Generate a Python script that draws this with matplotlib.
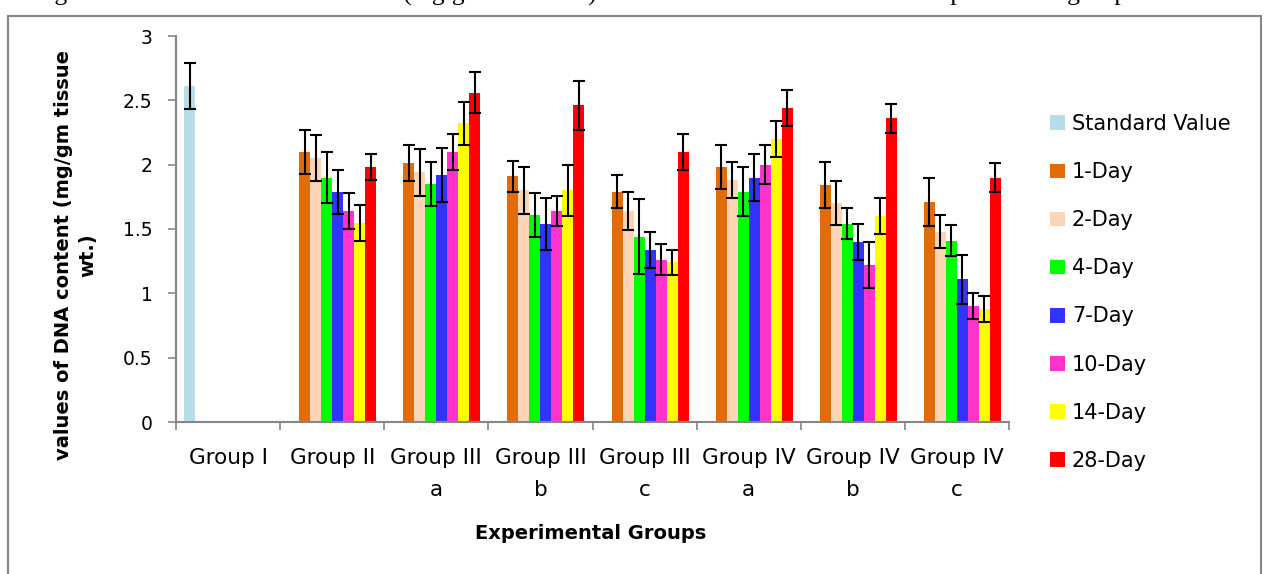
import matplotlib
matplotlib.use("Agg")
import matplotlib.pyplot as plt
import numpy as np
from matplotlib.patches import Patch, Rectangle

groups = ["Group I", "Group II", "Group III\na", "Group III\nb", "Group III\nc",
          "Group IV\na", "Group IV\nb", "Group IV\nc"]
series = ["Standard Value", "1-Day", "2-Day", "4-Day", "7-Day", "10-Day", "14-Day", "28-Day"]
colors = ["#B7DDE8", "#E36C09", "#FBD5B5", "#00FF00", "#3333FF", "#FF33CC", "#FFFF00", "#FF0000"]

nan = np.nan
# rows = series, columns = groups
standard = [2.61, nan, nan, nan, nan, nan, nan, nan]
day1 = [nan, 2.10, 2.01, 1.91, 1.79, 1.98, 1.84, 1.71]
day2 = [nan, 2.05, 1.94, 1.80, 1.64, 1.88, 1.70, 1.48]
day4 = [nan, 1.90, 1.85, 1.61, 1.44, 1.79, 1.54, 1.41]
day7 = [nan, 1.79, 1.92, 1.54, 1.34, 1.90, 1.40, 1.11]
day10 = [nan, 1.64, 2.10, 1.64, 1.26, 2.00, 1.22, 0.90]
day14 = [nan, 1.55, 2.32, 1.80, 1.24, 2.20, 1.60, 0.88]
day28 = [nan, 1.98, 2.56, 2.46, 2.10, 2.44, 2.36, 1.90]

standard_err = [0.18, nan, nan, nan, nan, nan, nan, nan]
day1_err = [nan, 0.17, 0.14, 0.12, 0.13, 0.17, 0.18, 0.19]
day2_err = [nan, 0.18, 0.18, 0.18, 0.15, 0.14, 0.17, 0.13]
day4_err = [nan, 0.20, 0.17, 0.17, 0.29, 0.19, 0.12, 0.12]
day7_err = [nan, 0.17, 0.21, 0.20, 0.14, 0.18, 0.14, 0.19]
day10_err = [nan, 0.14, 0.14, 0.12, 0.12, 0.15, 0.18, 0.10]
day14_err = [nan, 0.14, 0.17, 0.20, 0.10, 0.14, 0.14, 0.10]
day28_err = [nan, 0.10, 0.16, 0.19, 0.14, 0.14, 0.11, 0.11]

values = [standard, day1, day2, day4, day7, day10, day14, day28]
errors = [standard_err, day1_err, day2_err, day4_err, day7_err, day10_err, day14_err, day28_err]

fig = plt.figure(figsize=(12.65, 5.74), dpi=100)
ax = fig.add_axes([176 / 1265, 152 / 574, 833 / 1265, 386 / 574])

x = np.arange(len(groups))
n = len(series)
w = 0.846 / n
for j in range(n):
    pos = x + (j - (n - 1) / 2) * w
    ax.bar(pos, values[j], width=w, color=colors[j], label=series[j], zorder=2)
    ax.errorbar(pos, values[j], yerr=errors[j], fmt="none", ecolor="black",
                elinewidth=1.5, capsize=4, capthick=1.5, zorder=3)

gray = "#868686"
ax.set_xlim(-0.5, len(groups) - 0.5)
ax.set_ylim(0, 3)
ax.set_yticks(np.arange(0, 3.01, 0.5))
ax.set_yticklabels([f"{v:g}" for v in np.arange(0, 3.01, 0.5)])
ax.set_xticks(np.arange(len(groups) + 1) - 0.5)
ax.set_xticklabels([])
ax.set_xticks(x, minor=True)
ax.set_xticklabels(groups, minor=True)
for t in ax.get_xticklabels(minor=True):
    t.set_linespacing(1.75)
ax.tick_params(axis="x", which="major", length=6, color=gray, width=1.2)
ax.tick_params(axis="x", which="minor", length=0, pad=18.5, labelsize=15.5)
ax.tick_params(axis="y", length=6, color=gray, width=1.2, pad=11, labelsize=13.5)
for s in ["top", "right"]:
    ax.spines[s].set_visible(False)
for s in ["left", "bottom"]:
    ax.spines[s].set_color(gray)
    ax.spines[s].set_linewidth(1.5)

fig.text(76 / 1265, 1 - 255 / 574, "values of DNA content (mg/gm tissue\nwt.)",
         rotation=90, ha="center", va="center", multialignment="center",
         fontsize=14, fontweight="bold", linespacing=1.35)
fig.text(591 / 1265, 1 - 539 / 574, "Experimental Groups", ha="center", va="baseline",
         fontsize=14, fontweight="bold")

handles = [Patch(facecolor=c) for c in colors]
fig.legend(handles, series, loc="upper left", bbox_to_anchor=(1050 / 1265, 1 - 114 / 574),
           frameon=False, fontsize=15, handlelength=0.7, handleheight=0.7,
           handletextpad=0.35, labelspacing=1.35, borderpad=0, borderaxespad=0)

# outer chart frame and the clipped caption line above it
fig.patches.append(Rectangle((8 / 1265, -0.05), 1253 / 1265, 1.05 - 16 / 574, fill=False,
                             edgecolor=gray, linewidth=1.5, transform=fig.transFigure))
fig.text(0.0, 1 - 1 / 574, "Changes in the values of DNA content (mg/gm tissue wt.) in the tissue "
         "of mice in various experimental groups", ha="left", va="baseline",
         fontsize=18.5, family="Liberation Serif")

fig.savefig("out.png", dpi=100)
